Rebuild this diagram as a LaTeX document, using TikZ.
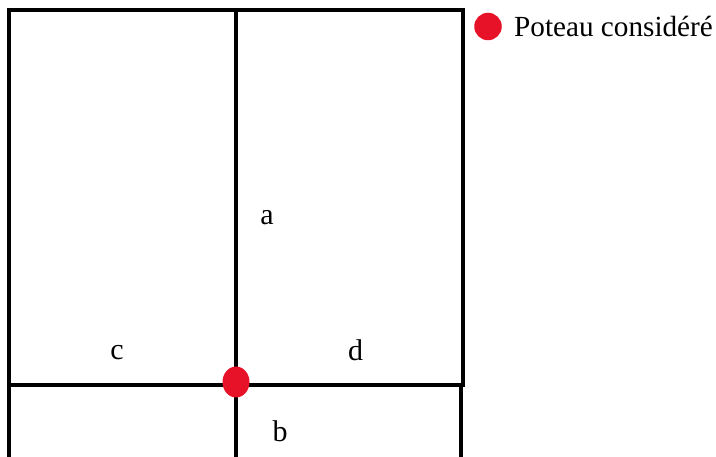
\documentclass[tikz,border=0pt]{standalone}
\usepackage{fontspec}
\setmainfont{Liberation Serif}
\usetikzlibrary{shapes.geometric}
\definecolor{poteau}{RGB}{232,18,40}
\begin{document}
\begin{tikzpicture}[x=1pt,y=-1pt,
  wall/.style={line width=4pt,black},
  lbl/.style={inner sep=0pt,font=\fontsize{30}{32}\selectfont},
  legend/.style={inner sep=0pt,anchor=west,font=\fontsize{29.2}{31}\selectfont}]
\useasboundingbox (0,0) rectangle (716,457);
% corners and junctions
\coordinate (tl) at (9,10);
\coordinate (tm) at (236,10);
\coordinate (tr) at (463,10);
\coordinate (ml) at (9,385);
\coordinate (mm) at (236,385);
\coordinate (mr) at (463,385);
\coordinate (mr2) at (461.3,385);
\coordinate (bl) at (9,457);
\coordinate (bm) at (236,457);
\coordinate (br) at (461.3,457);
% walls
\draw[wall] (bl) -- (tl) -- ([xshift=2pt]tr) ;
\draw[wall] (tr) -- (mr);
\draw[wall] (tm) -- (bm);
\draw[wall] (ml) -- ([xshift=2pt]mr);
\draw[wall] (mr2) -- (br);
% column
\node[ellipse,fill=poteau,minimum width=27pt,minimum height=31pt,inner sep=0pt] (col) at (236,382) {};
% labels
\node[lbl] (a) at (267,218) {a};
\node[lbl] (b) at (280,431) {b};
\node[lbl] (c) at (117,353) {c};
\node[lbl] (d) at (355.5,350) {d};
% legend
\node[circle,fill=poteau,minimum size=27.5pt,inner sep=0pt] (ldot) at (488,26.5) {};
\node[legend] (ltxt) at (514,26.5) {Poteau considéré};
\end{tikzpicture}
\end{document}
